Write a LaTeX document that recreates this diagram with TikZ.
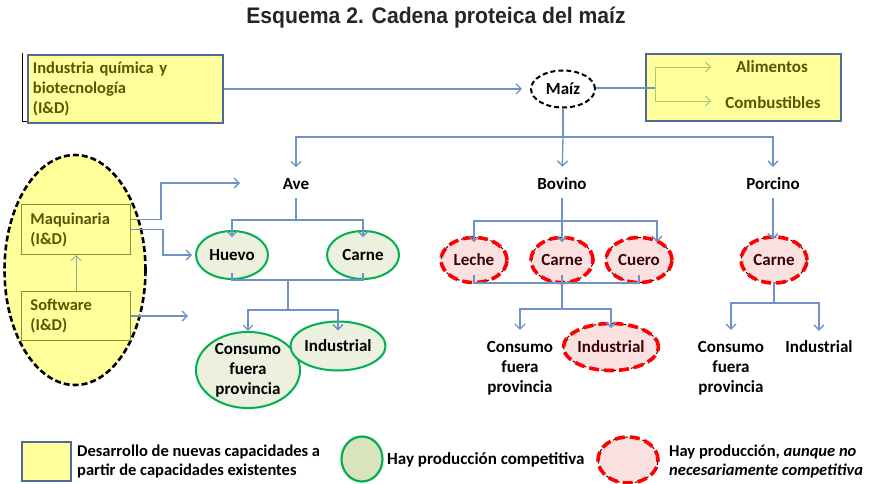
\documentclass[tikz,border=0pt]{standalone}
\usepackage{fontspec}
\setmainfont{Carlito}
\newfontfamily\titlefont{Liberation Sans}
\usetikzlibrary{arrows.meta,shapes.geometric}
\definecolor{lineblue}{HTML}{6E92C5}
\definecolor{boxblue}{HTML}{4E6A96}
\definecolor{yel}{HTML}{FFFF9C}
\definecolor{oltext}{HTML}{575700}
\definecolor{olivebd}{HTML}{8E8E2A}
\definecolor{grn}{HTML}{00B050}
\definecolor{grfill}{HTML}{EBF1DE}
\definecolor{grfillB}{HTML}{D8E4BC}
\definecolor{pinkfill}{HTML}{FBE0E0}
\definecolor{maroon}{HTML}{3B0505}
\definecolor{palegreen}{HTML}{A9C97A}
\definecolor{grayarr}{HTML}{94AE96}
\definecolor{titlegray}{HTML}{262626}
\tikzset{
  conn/.style={draw=lineblue, line width=1.3pt},
  arr/.style={conn, -{Straight Barb[length=5pt,width=10pt]}},
  pgarr/.style={draw=palegreen, line width=1pt, -{Straight Barb[length=5pt,width=10pt]}},
  ybox/.style={draw=boxblue, line width=1.8pt, fill=yel},
  greenell/.style={ellipse, draw=grn, line width=2pt, fill=grfill, inner sep=0pt, align=center},
  redell/.style={ellipse, fill=pinkfill, draw=black, line width=0.9pt, dash pattern=on 3pt off 3pt, inner sep=0pt, text=maroon, align=center,
     postaction={draw=red, line width=3.6pt, dash pattern=on 10pt off 5pt}},
  lbl/.style={align=center, inner sep=1pt},
  olbox/.style={draw=olivebd, line width=1pt, anchor=north west, minimum width=109pt, text width=91pt, align=left, inner xsep=9pt, text=oltext, font=\fontsize{16.5}{20}\selectfont\bfseries},
}
\begin{document}
\begin{tikzpicture}[x=1pt,y=-1pt, font=\fontsize{17}{20}\selectfont\bfseries]
\useasboundingbox[fill=white] (0,0) rectangle (875,483);

% title
\node[font=\titlefont\bfseries\fontsize{22.5}{26}\selectfont, text=titlegray, xscale=0.94, transform shape] (title) at (436,18) {Esquema 2. Cadena proteica del maíz};

% top row
\draw[line width=0.8pt] (22,53) -- (22,121) -- (27,121);
\node[ybox, anchor=north west, minimum width=195pt, minimum height=68pt, text width=185pt, align=left, inner xsep=5pt, text=oltext, font=\fontsize{16.5}{20}\selectfont\bfseries] (ind) at (27,54) {Industria química y\\biotecnología\\(I\&D)};
\node[ellipse, draw=black, line width=2pt, dash pattern=on 5pt off 3pt, minimum width=64pt, minimum height=37pt, inner sep=0pt] (maiz) at (563,89) {Maíz};
\node[ybox, anchor=north west, minimum width=195pt, minimum height=67pt] (rbox) at (645,53) {};
\node[text=oltext] (alim) at (772,67) {Alimentos};
\node[text=oltext] (comb) at (773,103) {Combustibles};
\coordinate (rj) at (655,88);
\coordinate (alimT) at (711,67);
\coordinate (combT) at (711,101);
\draw[arr, shorten >=8pt] (ind.east) -- (ind.east -| maiz.west);
\draw[conn] (maiz.east |- rj) -- (rj);
\draw[pgarr] (rj) |- (alimT);
\draw[pgarr] (rj) |- (combT);

% level 1
\coordinate (hub) at (563,137);
\node[lbl] (ave) at (296,184) {Ave};
\node[lbl] (bovino) at (562,184) {Bovino};
\node[lbl] (porcino) at (773,184) {Porcino};
\draw[conn] (maiz.south) -- (hub);
\draw[arr, shorten >=10pt] (hub) -| (ave.north);
\draw[arr, shorten >=10pt] (hub) -- (bovino.north);
\draw[arr, shorten >=10pt] (hub) -| (porcino.north);

% Ave branch
\coordinate (aveh) at (296,220);
\node[greenell, minimum width=72pt, minimum height=48pt] (huevo) at (232,255) {Huevo};
\node[greenell, minimum width=72pt, minimum height=48pt] (carneA) at (363,255) {Carne};
\draw[conn, shorten <=7pt] (ave.south) -- (aveh);
\draw[arr, shorten >=-7pt] (aveh) -| (huevo.north);
\draw[arr, shorten >=-7pt] (aveh) -| (carneA.north);
\draw[conn] ([yshift=7pt]huevo.south) -- (huevo.south) -- (carneA.south) -- ([yshift=7pt]carneA.south);
\coordinate (avej) at (288,279);
\coordinate (avek) at (288,310);
\draw[conn] (avej) -- (avek);
\node[greenell, minimum width=104pt, minimum height=74pt] (consA) at (248,370) {Consumo\\fuera\\provincia};
\node[greenell, minimum width=76pt, minimum height=49pt] (indA) at (338,346) {Industrial};
\draw[arr] (avek) -| (consA.north);
\draw[arr, shorten >=-10pt] (avek) -| (indA.north);

% Bovino branch
\coordinate (bovh) at (562,221);
\node[redell, minimum width=66pt, minimum height=45pt] (leche) at (474,260) {Leche};
\node[redell, minimum width=62pt, minimum height=45pt] (carneB) at (562,260) {Carne};
\node[redell, minimum width=66pt, minimum height=45pt] (cuero) at (639,260) {Cuero};
\draw[conn, shorten <=7pt] (bovino.south) -- (bovh);
\draw[arr, shorten >=-5pt] (bovh) -| (leche.north);
\draw[arr, shorten >=-5pt] (bovh) -- (carneB.north);
\draw[arr] (bovh) -| ([xshift=18pt,yshift=-5pt]cuero.north);
\draw[conn] ([yshift=8pt]leche.south) -- (leche.south) -- (cuero.south) -- ([yshift=8pt]cuero.south);
\coordinate (bovk) at (562,309);
\draw[conn] ([yshift=8pt]carneB.south) -- (bovk);
\node[lbl] (consB) at (520,368) {Consumo\\fuera\\provincia};
\node[redell, minimum width=92pt, minimum height=47pt] (indB) at (611,347) {Industrial};
\draw[arr, shorten >=10pt] (bovk) -| (consB.north);
\draw[arr, shorten >=-5pt] (bovk) -| (indB.north);

% Porcino branch
\node[redell, minimum width=66pt, minimum height=46pt] (carneC) at (774,260) {Carne};
\draw[arr, shorten <=7pt, shorten >=-3pt] (porcino.south) -- (porcino.south |- carneC.north);
\coordinate (pork) at (774,303);
\draw[conn] (carneC.south) -- (pork);
\node[lbl] (consC) at (731,368) {Consumo\\fuera\\provincia};
\node[lbl] (indC) at (819,347) {Industrial};
\draw[arr, shorten >=10pt] (pork) -| (consC.north);
\draw[arr, shorten >=9pt] (pork) -| (indC.north);

% left cluster
\node[ellipse, draw=black, line width=2.6pt, dash pattern=on 6pt off 3pt, fill=yel, minimum width=141pt, minimum height=230pt] (big) at (75,270) {};
\node[olbox, minimum height=50pt] (maq) at (21,204) {Maquinaria\\(I\&D)};
\node[olbox, minimum height=49pt] (soft) at (21,291) {Software\\(I\&D)};
\draw[draw=grayarr, line width=1pt, -{Straight Barb[length=5pt,width=10pt]}] (soft.north) -- (maq.south);
\coordinate (aveL) at (240,183);
\coordinate (softT) at (188,315);
\draw[arr] ([yshift=10pt]maq.east) -- ++(30,0) |- (aveL);
\draw[arr, shorten >=3pt] (maq.east) -- ++(32,0) |- (huevo.west);
\draw[arr] (soft.east) -- (soft.east -| softT);

% legend
\node[ybox, anchor=north west, minimum width=49pt, minimum height=39pt] (lgY) at (21,441) {};
\node[anchor=west, align=left, inner sep=1pt, font=\fontsize{16.5}{19}\selectfont\bfseries] (lgYt) at (76,461) {Desarrollo de nuevas capacidades a\\partir de capacidades existentes};
\node[ellipse, draw=grn, line width=2.2pt, fill=grfillB, minimum width=41pt, minimum height=45pt] (lgG) at (362,459) {};
\node[anchor=west, inner sep=1pt] (lgGt) at (386,460) {Hay producción competitiva};
\node[redell, minimum width=60pt, minimum height=46pt] (lgR) at (628,460) {};
\node[anchor=west, align=left, inner sep=1pt, font=\fontsize{16.5}{19}\selectfont\bfseries] (lgRt) at (668,461) {Hay producción, \textit{aunque no}\\\textit{necesariamente competitiva}};
\end{tikzpicture}
\end{document}
